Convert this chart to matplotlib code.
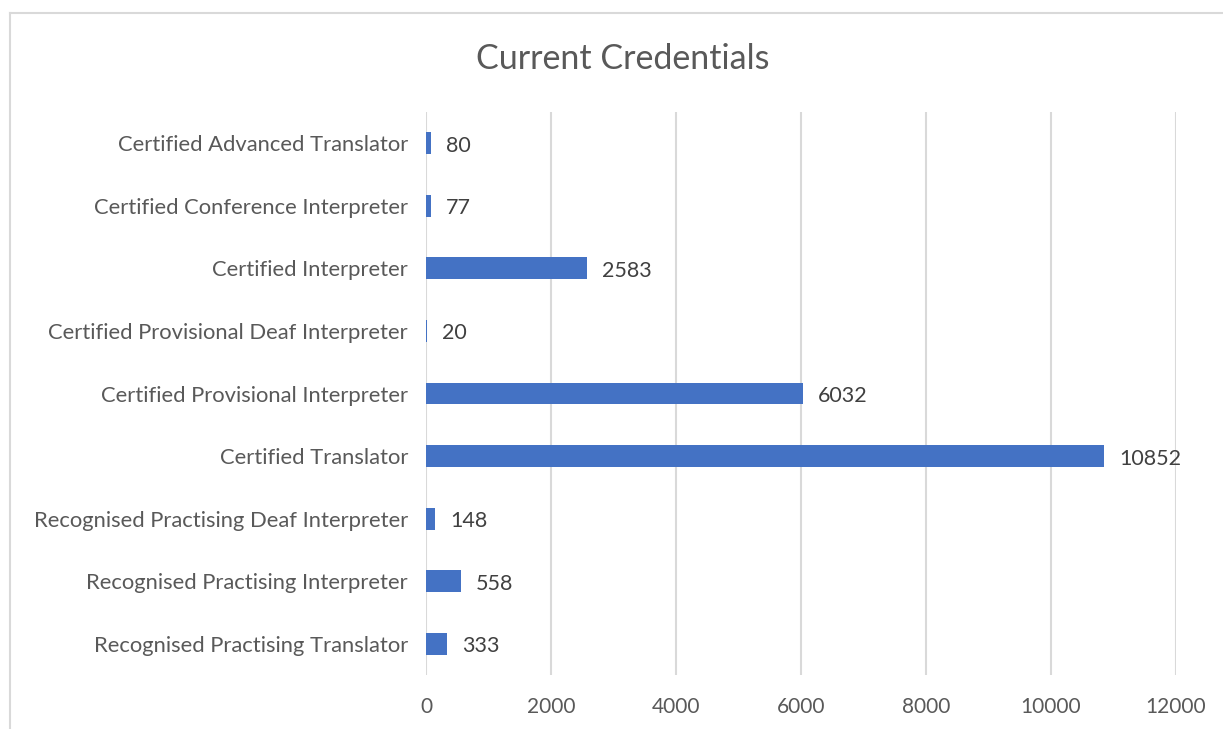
import matplotlib
matplotlib.use("Agg")
import matplotlib.pyplot as plt
from matplotlib.lines import Line2D

categories = [
    "Certified Advanced Translator",
    "Certified Conference Interpreter",
    "Certified Interpreter",
    "Certified Provisional Deaf Interpreter",
    "Certified Provisional Interpreter",
    "Certified Translator",
    "Recognised Practising Deaf Interpreter",
    "Recognised Practising Interpreter",
    "Recognised Practising Translator",
]
counts = [80, 77, 2583, 20, 6032, 10852, 148, 558, 333]
xticks = [0, 2000, 4000, 6000, 8000, 10000, 12000]

plt.rcParams["font.family"] = ["Lato", "DejaVu Sans"]

fig = plt.figure(figsize=(12.23, 7.29), dpi=100)
ax = fig.add_axes([426 / 1223, 54 / 729, 750 / 1223, 563 / 729])

ypos = list(range(len(categories)))[::-1]
ax.barh(ypos, counts, height=0.35, color="#4472C4", zorder=2)
for y, v in zip(ypos, counts):
    ax.text(v + 240, y - 0.04, str(v), va="center", ha="left",
            fontsize=15.5, color="#404040")

ax.set_xlim(0, 12000)
ax.set_ylim(-0.5, len(categories) - 0.5)
ax.set_xticks(xticks)
ax.set_xticklabels([str(t) for t in xticks])
ax.set_yticks(ypos)
ax.set_yticklabels(categories)
ax.tick_params(axis="both", length=0, labelcolor="#595959")
ax.tick_params(axis="x", pad=16, labelsize=15)
ax.tick_params(axis="y", pad=13, labelsize=15.8)
ax.xaxis.grid(True, color="#D9D9D9", linewidth=1.5, zorder=0)
for s in ax.spines.values():
    s.set_visible(False)

fig.text(623 / 1223, 1 - 59 / 729, "Current Credentials", ha="center",
         va="center", fontsize=24.5, color="#595959")

# chart frame (cut off at the right and bottom)
fig.add_artist(Line2D([10 / 1223, 1], [1 - 13 / 729] * 2,
                      color="#D9D9D9", linewidth=1.5))
fig.add_artist(Line2D([10 / 1223] * 2, [0, 1 - 13 / 729],
                      color="#D9D9D9", linewidth=1.5))

fig.savefig("out.png", dpi=100)
